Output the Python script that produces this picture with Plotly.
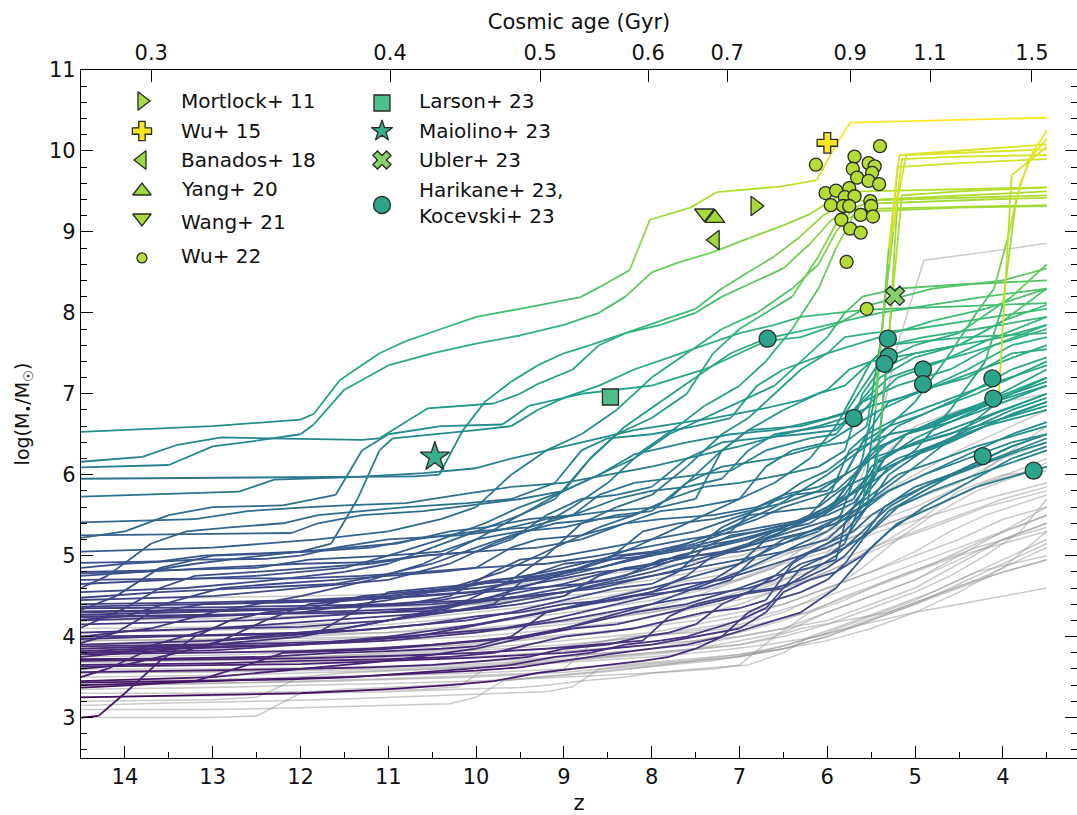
import plotly.graph_objects as go
from plotly.colors import sample_colorscale

# ---------------- axes ----------------
AGE_LABELS = ["0.3", "0.4", "0.5", "0.6", "0.7", "0.9", "1.1", "1.5"]
AGE_TICK_Z = [13.70, 10.98, 9.27, 8.04, 7.14, 5.74, 4.83, 3.67]
Z_RANGE = [14.5, 3.156]
M_RANGE = [2.5, 11.0]

# ---------------- observed black holes ----------------
MORTLOCK11_Z, MORTLOCK11_M = [6.82], [9.32]
WU15_Z, WU15_M = [6.00], [10.10]
BANADOS18_Z, BANADOS18_M = [7.28], [8.90]
YANG20_Z, YANG20_M = [7.28], [9.17]
WANG21_Z, WANG21_M = [7.40], [9.23]
WU22_Z = [6.13, 5.40, 5.69, 5.53, 5.46, 5.71, 5.49, 5.66, 5.53, 5.41, 6.02, 5.90, 5.75, 5.80,
          5.69, 5.51, 5.96, 5.82, 5.75, 5.50, 5.62, 5.48, 5.84, 5.74, 5.62, 5.78, 5.55]
WU22_M = [9.83, 10.06, 9.93, 9.85, 9.81, 9.78, 9.73, 9.67, 9.63, 9.59, 9.48, 9.51, 9.54, 9.43,
          9.44, 9.38, 9.33, 9.32, 9.32, 9.32, 9.21, 9.19, 9.15, 9.04, 8.99, 8.63, 8.05]
LARSON23_Z, LARSON23_M = [8.47], [6.96]
MAIOLINO23_Z, MAIOLINO23_M = [10.47], [6.22]
UBLER23_Z, UBLER23_M = [5.23], [8.21]
HARIKANE23_Z = [6.68, 5.70, 5.31, 5.30, 5.35, 4.91, 4.91, 4.12, 4.11, 4.23, 3.65]
HARIKANE23_M = [7.68, 6.70, 7.68, 7.46, 7.37, 7.30, 7.12, 7.19, 6.94, 6.23, 6.05]

# ---------------- simulated growth tracks: (z, log M) ----------------
UPPER_TRACKS = [
    [(14.5, 6.53), (13.0, 6.6), (12.0, 6.68), (11.85, 6.75), (11.55, 7.17), (11.1, 7.5), (10.8, 7.65),
     (10.4, 7.8), (10.0, 7.95), (9.5, 8.05), (8.82, 8.19), (8.59, 8.32), (8.25, 8.53), (8.02, 9.15),
     (7.56, 9.3), (7.26, 9.49), (6.54, 9.56), (6.12, 9.64), (5.94, 10.0), (5.74, 10.35), (3.5, 10.41)],
    [(14.5, 6.09), (13.5, 6.12), (13.0, 6.35), (12.5, 6.42), (12.0, 6.5), (11.85, 6.62), (11.5, 7.05),
     (11.0, 7.35), (10.5, 7.5), (10.0, 7.62), (9.5, 7.72), (9.0, 7.85), (8.6, 8.0), (8.3, 8.2), (8.0, 8.5),
     (7.7, 8.62), (7.3, 8.75), (6.9, 8.92), (6.5, 9.08), (6.2, 9.22), (5.9, 9.42), (5.6, 9.5), (3.5, 9.55)],
    [(14.5, 6.16), (13.8, 6.22), (13.4, 6.37), (12.9, 6.46), (11.3, 6.43), (11.1, 6.45), (10.55, 6.82),
     (9.8, 6.88), (9.5, 7.0), (9.3, 7.12), (8.9, 7.3), (8.6, 7.6), (8.3, 7.75), (7.9, 7.85), (7.5, 8.0),
     (7.2, 8.2), (6.9, 8.35), (6.5, 8.55), (6.2, 8.85), (5.95, 9.15), (5.7, 9.28), (3.5, 9.33)],
    [(14.5, 5.95), (13.0, 5.96), (11.5, 5.97), (10.7, 5.98), (10.42, 6.0), (10.15, 6.55), (9.9, 6.9),
     (9.6, 7.15), (9.3, 7.35), (9.0, 7.5), (8.7, 7.6), (8.3, 7.75), (7.9, 7.9), (7.5, 8.05), (7.2, 8.3),
     (6.9, 8.5), (6.6, 8.7), (6.3, 8.95), (6.05, 9.2), (5.8, 9.38), (3.5, 9.45)],
    [(14.5, 5.73), (12.7, 5.79), (12.3, 5.94), (11.4, 5.97), (10.6, 6.02), (10.0, 6.08), (9.6, 6.2),
     (9.0, 6.35), (8.6, 6.45), (8.2, 6.55), (7.8, 6.62), (7.3, 6.7), (6.8, 6.8), (6.3, 6.92), (6.0, 7.05),
     (5.75, 7.3), (5.5, 7.4), (5.0, 7.5), (4.5, 7.6), (4.0, 7.7), (3.5, 7.85)],
    [(14.5, 4.78), (13.8, 4.8), (13.2, 4.9), (12.6, 4.98), (12.0, 5.05), (11.65, 5.15), (11.35, 5.7),
     (11.1, 6.3), (10.95, 6.45), (10.5, 6.5), (10.0, 6.55), (9.6, 6.6), (9.3, 6.8), (9.0, 6.95), (8.6, 7.1),
     (8.2, 7.3), (7.8, 7.45), (7.4, 7.6), (7.0, 7.75), (6.6, 7.85), (6.3, 7.95), (5.9, 8.0), (5.55, 8.04),
     (4.5, 8.08), (3.5, 8.12)],
]

MID_TRACKS = [
    [(14.5, 5.05), (13.0, 5.1), (11.8, 5.2), (11.0, 5.3), (10.4, 5.45), (10.0, 5.6), (9.6, 6.0), (9.2, 6.3),
     (8.8, 6.5), (8.4, 6.8), (8.0, 7.2), (7.6, 7.5), (7.2, 7.8), (6.8, 8.0), (6.4, 8.3), (6.1, 8.6),
     (5.9, 9.0), (5.7, 9.3), (5.4, 9.4), (4.5, 9.45), (3.5, 9.5)],
    [(14.5, 4.65), (13.5, 4.7), (12.5, 4.75), (11.5, 4.85), (11.0, 5.0), (10.4, 5.2), (9.9, 5.4), (9.5, 5.6),
     (9.0, 5.8), (8.7, 6.2), (8.4, 6.5), (8.0, 6.7), (7.6, 7.0), (7.3, 7.5), (7.0, 7.8), (6.7, 8.0),
     (6.4, 8.2), (6.1, 8.7), (5.9, 9.1), (5.6, 9.25), (4.5, 9.3), (3.5, 9.32)],
    [(14.5, 4.45), (13.0, 4.5), (12.0, 4.6), (11.0, 4.7), (10.3, 4.9), (9.8, 5.15), (9.3, 5.35), (8.9, 5.6),
     (8.5, 5.9), (8.1, 6.3), (7.7, 6.6), (7.4, 6.85), (7.0, 7.1), (6.7, 7.4), (6.4, 7.8), (6.1, 8.3),
     (5.9, 8.8), (5.7, 9.2), (5.5, 9.35), (4.2, 9.4), (3.5, 9.42)],
    [(14.5, 4.0), (13.7, 4.1), (13.0, 4.3), (12.0, 4.5), (11.2, 4.7), (10.6, 4.9), (10.0, 5.2), (9.5, 5.5),
     (9.0, 5.8), (8.6, 6.0), (8.2, 6.2), (7.8, 6.5), (7.4, 6.7), (7.0, 6.9), (6.6, 7.1), (6.3, 7.4),
     (6.0, 7.7), (5.8, 8.0), (5.6, 8.2), (5.2, 8.3), (4.5, 8.35), (3.5, 8.4)],
    [(14.5, 3.85), (13.0, 3.9), (12.0, 4.0), (11.0, 4.2), (10.2, 4.4), (9.6, 4.7), (9.2, 5.0), (8.8, 5.4),
     (8.4, 5.6), (8.0, 5.75), (7.6, 6.1), (7.2, 6.5), (6.9, 6.7), (6.6, 7.0), (6.3, 7.3), (6.0, 7.5),
     (5.8, 7.7), (5.5, 7.75), (5.0, 7.8), (4.4, 7.9), (3.5, 8.05)],
    [(14.5, 4.55), (13.3, 4.6), (12.3, 4.7), (11.5, 4.8), (11.0, 4.9), (10.5, 5.1), (10.0, 5.3), (9.5, 5.5),
     (9.1, 5.7), (8.7, 6.2), (8.3, 6.6), (7.9, 6.9), (7.5, 7.2), (7.1, 7.5), (6.7, 7.68), (6.2, 7.8),
     (5.8, 7.9), (5.4, 8.0), (4.8, 8.1), (4.2, 8.2), (3.5, 8.3)],
    [(14.5, 4.2), (13.0, 4.25), (12.0, 4.3), (11.0, 4.45), (10.3, 4.6), (9.7, 4.8), (9.1, 5.1), (8.6, 5.35),
     (8.2, 5.5), (7.8, 5.7), (7.5, 6.0), (7.2, 6.3), (6.9, 6.55), (6.5, 6.8), (6.1, 7.0), (5.8, 7.1),
     (5.6, 7.3), (5.3, 7.6), (4.9, 7.7), (4.3, 7.8), (3.5, 7.95)],
    [(14.5, 3.9), (13.0, 3.95), (11.5, 4.1), (10.5, 4.3), (9.8, 4.5), (9.2, 4.7), (8.7, 4.9), (8.2, 5.1),
     (7.8, 5.3), (7.4, 5.5), (7.0, 5.7), (6.6, 5.9), (6.2, 6.2), (5.9, 6.6), (5.7, 7.0), (5.5, 7.4),
     (5.3, 7.6), (4.9, 7.65), (4.4, 7.7), (3.5, 7.75)],
]

RISER_TRACKS = [
    [(14.5, 4.05), (13.0, 4.1), (12.0, 4.12), (11.0, 4.2), (10.0, 4.35), (9.0, 4.55), (8.0, 4.8), (7.0, 5.1),
     (6.5, 5.3), (6.0, 5.6), (5.5, 5.9), (5.0, 6.3), (4.6, 6.8), (4.2, 7.4), (4.0, 8.1), (3.85, 9.4),
     (3.7, 9.9), (3.5, 10.15)],
    [(14.5, 4.4), (13.2, 4.42), (12.0, 4.45), (11.0, 4.5), (10.0, 4.6), (9.0, 4.75), (8.0, 5.0), (7.2, 5.3),
     (6.6, 5.6), (6.0, 6.0), (5.5, 6.4), (5.0, 6.9), (4.6, 7.5), (4.3, 8.0), (4.1, 8.3), (3.95, 8.9),
     (3.8, 9.6), (3.65, 10.0), (3.5, 10.25)],
    [(14.5, 3.45), (13.0, 3.5), (11.0, 3.7), (10.0, 3.85), (9.0, 4.1), (8.0, 4.4), (7.0, 4.8), (6.0, 5.3),
     (5.5, 5.7), (5.0, 6.1), (4.4, 6.6), (4.05, 6.9), (3.9, 9.7), (3.5, 10.05)],
    [(14.5, 3.8), (13.0, 3.83), (12.0, 3.9), (11.0, 4.0), (10.0, 4.15), (9.0, 4.35), (8.0, 4.6), (7.0, 4.9),
     (6.4, 5.2), (6.0, 5.4), (5.6, 5.6), (5.45, 6.8), (5.3, 8.8), (5.18, 9.95), (3.5, 10.08)],
]

BULK_TRACKS = [
    [(14.5, 5.41), (13.2, 5.45), (12.6, 5.55), (11.9, 5.6), (11.5, 5.62), (10.8, 5.65), (10.2, 5.75),
     (9.6, 5.85), (9.0, 5.9), (8.5, 6.0), (8.0, 6.1), (7.4, 6.25), (7.0, 6.35), (6.5, 6.5), (6.1, 6.6),
     (5.8, 6.7), (5.5, 6.85), (5.0, 7.0), (4.4, 7.3), (3.9, 7.6), (3.5, 7.7)],
    [(14.5, 5.25), (12.1, 5.28), (11.8, 5.4), (11.3, 5.5), (10.6, 5.55), (10.0, 5.63), (9.5, 5.7),
     (9.0, 5.8), (8.6, 6.0), (8.2, 6.25), (7.6, 6.4), (7.1, 6.5), (6.6, 6.55), (6.0, 6.7), (5.7, 6.8),
     (5.4, 7.2), (5.0, 7.45), (4.5, 7.6), (4.0, 7.9), (3.5, 8.3)],
    [(14.5, 5.22), (14.0, 5.3), (13.5, 5.5), (13.0, 5.6), (12.2, 5.62), (11.6, 5.75), (11.3, 6.3),
     (11.0, 6.5), (10.4, 6.6), (9.7, 6.62), (9.4, 6.85), (8.8, 7.0), (8.0, 7.1), (7.4, 7.3), (7.0, 7.5),
     (6.7, 7.65), (6.3, 7.7), (5.9, 7.85), (5.5, 8.1), (4.8, 8.3), (4.0, 8.4), (3.5, 8.55)],
    [(14.5, 4.91), (13.6, 4.93), (13.1, 5.0), (12.0, 5.05), (11.4, 5.1), (10.9, 5.15), (10.3, 5.3),
     (9.9, 5.35), (9.4, 5.45), (8.9, 5.5), (8.6, 5.75), (8.2, 5.9), (7.5, 6.0), (7.1, 6.05), (6.7, 6.3),
     (6.2, 6.45), (5.9, 6.5), (5.6, 6.9), (5.2, 7.1), (4.6, 7.3), (4.1, 7.6), (3.5, 7.85)],
    [(14.5, 4.85), (14.0, 4.9), (13.2, 4.95), (12.4, 4.96), (12.0, 5.0), (11.6, 5.1), (11.0, 5.2),
     (10.2, 5.25), (9.8, 5.3), (9.2, 5.45), (8.5, 5.55), (7.9, 5.6), (7.5, 5.7), (7.2, 6.3), (6.9, 6.55),
     (6.3, 6.6), (5.8, 6.75), (5.4, 7.4), (5.0, 7.6), (4.5, 7.75), (3.9, 8.2), (3.5, 8.6)],
    [(14.5, 4.80), (13.5, 4.82), (12.5, 4.85), (11.9, 4.95), (11.0, 5.0), (10.4, 5.05), (10.0, 5.2),
     (9.5, 5.3), (9.0, 5.35), (8.4, 5.5), (8.0, 5.55), (7.6, 5.9), (7.2, 6.1), (6.6, 6.2), (6.1, 6.35),
     (5.8, 6.4), (5.55, 6.6), (5.4, 7.6), (5.25, 9.0), (5.15, 9.9), (4.5, 9.93), (3.5, 9.95)],
    [(14.5, 4.75), (13.8, 4.8), (13.0, 4.85), (12.0, 4.9), (11.2, 4.92), (10.6, 5.0), (10.0, 5.05),
     (9.3, 5.1), (8.8, 5.2), (8.3, 5.4), (7.9, 5.45), (7.3, 5.5), (6.8, 5.6), (6.4, 5.75), (6.0, 5.8),
     (5.8, 6.0), (5.6, 6.4), (5.3, 6.6), (4.9, 6.75), (4.4, 7.0), (3.9, 7.3), (3.5, 7.45)],
    [(14.5, 4.70), (13.0, 4.72), (12.0, 4.72), (11.3, 4.75), (10.6, 4.8), (10.0, 4.85), (9.2, 4.9),
     (8.6, 5.0), (8.1, 5.1), (7.6, 5.2), (7.0, 5.3), (6.5, 5.4), (6.0, 5.5), (5.7, 5.65), (5.45, 6.0),
     (5.3, 7.6), (5.2, 9.4), (5.1, 9.95), (3.5, 10.02)],
    [(14.5, 4.60), (14.2, 4.75), (13.7, 5.15), (13.3, 5.3), (12.8, 5.35), (12.2, 5.4), (11.8, 5.5),
     (11.3, 5.55), (10.8, 5.6), (10.1, 5.65), (9.6, 5.7), (9.1, 5.9), (8.8, 6.3), (8.5, 6.45), (8.0, 6.5),
     (7.5, 6.6), (7.1, 6.7), (6.8, 7.1), (6.5, 7.3), (6.0, 7.5), (5.7, 7.6), (5.4, 7.7), (4.8, 7.9),
     (4.2, 8.05), (3.5, 8.3)],
    [(14.5, 4.48), (13.6, 4.55), (12.6, 4.6), (11.6, 4.65), (11.1, 4.75), (10.5, 4.9), (10.0, 5.1),
     (9.6, 5.25), (9.1, 5.4), (8.6, 5.45), (8.2, 5.5), (7.8, 5.7), (7.4, 5.85), (7.0, 5.9), (6.5, 6.0),
     (6.1, 6.1), (5.8, 6.3), (5.6, 7.0), (5.4, 7.3), (5.0, 7.5), (4.5, 7.6), (4.0, 7.9), (3.5, 8.1)],
    [(14.5, 4.37), (13.0, 4.4), (12.2, 4.42), (11.4, 4.45), (10.6, 4.5), (10.0, 4.55), (9.5, 4.7),
     (9.0, 4.8), (8.6, 4.85), (8.1, 5.0), (7.6, 5.1), (7.2, 5.2), (6.8, 5.3), (6.4, 5.4), (6.0, 5.55),
     (5.75, 5.9), (5.5, 6.3), (5.1, 6.5), (4.6, 6.7), (4.1, 6.9), (3.5, 7.1)],
    [(14.5, 4.35), (13.0, 4.36), (12.0, 4.38), (11.0, 4.4), (10.0, 4.45), (9.4, 4.5), (9.0, 4.55),
     (8.6, 4.6), (8.2, 4.7), (7.8, 4.8), (7.5, 4.9), (7.1, 5.05), (6.8, 5.15), (6.5, 5.3), (6.2, 5.45),
     (5.95, 5.6), (5.75, 5.9), (5.5, 6.3), (5.2, 6.6), (4.8, 6.8), (4.3, 7.0), (3.5, 7.4)],
    [(14.5, 4.33), (14.1, 4.5), (13.6, 4.85), (13.0, 5.0), (12.5, 5.02), (11.9, 5.05), (11.2, 5.1),
     (10.7, 5.2), (10.0, 5.3), (9.4, 5.35), (8.9, 5.5), (8.4, 5.7), (8.0, 5.8), (7.6, 5.85), (7.2, 5.95),
     (6.9, 6.3), (6.6, 6.5), (6.0, 6.6), (5.7, 6.65), (5.5, 6.9), (5.2, 7.2), (4.7, 7.4), (4.2, 7.65),
     (3.5, 7.95)],
    [(14.5, 4.31), (13.0, 4.33), (11.8, 4.35), (11.0, 4.4), (10.4, 4.45), (9.9, 4.55), (9.3, 4.6),
     (8.8, 4.65), (8.3, 4.75), (7.9, 4.95), (7.5, 5.0), (7.0, 5.05), (6.5, 5.15), (6.1, 5.3), (5.85, 5.5),
     (5.6, 6.2), (5.45, 7.0), (5.3, 8.6), (5.2, 9.8), (4.5, 9.85), (3.5, 9.9)],
    [(14.5, 4.30), (13.5, 4.32), (12.5, 4.34), (11.5, 4.36), (10.5, 4.4), (9.8, 4.45), (9.0, 4.55),
     (8.5, 4.65), (8.0, 4.75), (7.5, 4.85), (7.0, 4.95), (6.5, 5.05), (6.0, 5.2), (5.8, 5.4), (5.6, 5.8),
     (5.35, 6.2), (5.0, 6.45), (4.5, 6.7), (4.0, 6.95), (3.5, 7.2)],
    [(14.5, 4.27), (13.4, 4.3), (12.3, 4.33), (11.5, 4.36), (10.8, 4.4), (10.3, 4.5), (9.8, 4.8),
     (9.5, 4.95), (9.0, 5.0), (8.5, 5.1), (8.0, 5.2), (7.5, 5.3), (7.1, 5.45), (6.7, 5.6), (6.3, 5.9),
     (6.0, 6.05), (5.7, 6.3), (5.3, 6.5), (4.8, 6.6), (4.3, 6.85), (3.5, 7.3)],
    [(14.5, 4.25), (13.0, 4.27), (12.0, 4.28), (11.0, 4.3), (10.2, 4.33), (9.8, 4.4), (9.4, 4.75),
     (9.0, 4.9), (8.5, 4.95), (8.0, 5.0), (7.5, 5.1), (7.0, 5.2), (6.5, 5.35), (6.1, 5.5), (5.8, 5.7),
     (5.5, 6.0), (5.2, 6.2), (4.7, 6.4), (4.2, 6.6), (3.5, 6.8)],
    [(14.5, 4.24), (13.0, 4.26), (12.0, 4.3), (11.3, 4.32), (10.6, 4.35), (10.0, 4.42), (9.5, 4.5),
     (9.0, 4.6), (8.5, 4.7), (8.0, 4.85), (7.6, 5.0), (7.2, 5.35), (6.9, 5.5), (6.5, 5.55), (6.1, 5.6),
     (5.8, 5.85), (5.5, 6.0), (5.1, 6.2), (4.6, 6.4), (4.0, 6.7), (3.5, 6.9)],
    [(14.5, 4.21), (14.0, 4.25), (13.4, 4.45), (12.9, 4.6), (12.3, 4.65), (11.6, 4.7), (11.0, 4.75),
     (10.4, 4.8), (10.0, 4.85), (9.6, 5.1), (9.3, 5.2), (8.8, 5.25), (8.3, 5.4), (7.9, 5.55), (7.5, 5.6),
     (7.0, 5.7), (6.7, 6.1), (6.4, 6.3), (6.0, 6.4), (5.7, 6.6), (5.4, 6.8), (5.0, 7.0), (4.5, 7.2),
     (4.0, 7.4), (3.5, 7.6)],
    [(14.5, 4.15), (13.5, 4.18), (12.6, 4.2), (11.8, 4.25), (11.1, 4.3), (10.5, 4.35), (10.0, 4.45),
     (9.5, 4.55), (9.0, 4.65), (8.5, 4.8), (8.0, 4.9), (7.5, 5.05), (7.0, 5.2), (6.6, 5.3), (6.2, 5.4),
     (5.9, 5.6), (5.7, 5.7), (5.5, 6.1), (5.2, 6.3), (4.8, 6.45), (4.3, 6.6), (3.5, 6.85)],
    [(14.5, 4.11), (14.0, 4.35), (13.6, 4.6), (13.2, 4.75), (12.5, 4.8), (11.9, 4.85), (11.2, 4.9),
     (10.6, 5.0), (10.0, 5.05), (9.6, 5.2), (9.2, 5.5), (8.8, 5.7), (8.4, 5.75), (8.0, 5.85), (7.6, 6.2),
     (7.2, 6.4), (6.8, 6.45), (6.3, 6.5), (5.9, 6.55), (5.6, 6.9), (5.3, 7.2), (4.9, 7.35), (4.4, 7.5),
     (3.5, 7.8)],
    [(14.5, 4.00), (13.0, 4.02), (12.0, 4.05), (11.3, 4.08), (10.6, 4.15), (10.0, 4.25), (9.5, 4.3),
     (9.0, 4.4), (8.5, 4.45), (8.0, 4.55), (7.6, 4.75), (7.3, 5.0), (7.0, 5.1), (6.6, 5.2), (6.2, 5.3),
     (5.9, 5.4), (5.6, 5.55), (5.3, 5.8), (4.9, 6.0), (4.4, 6.25), (3.9, 6.5), (3.5, 6.65)],
    [(14.5, 3.97), (13.6, 4.0), (12.6, 4.02), (11.8, 4.05), (11.4, 4.3), (11.0, 4.55), (10.5, 4.6),
     (10.0, 4.65), (9.4, 4.7), (8.9, 4.8), (8.5, 4.95), (8.1, 5.3), (7.7, 5.4), (7.3, 5.45), (6.9, 5.55),
     (6.5, 5.65), (6.1, 5.8), (5.8, 6.0), (5.55, 6.5), (5.3, 6.9), (4.9, 7.05), (4.4, 7.2), (3.9, 7.5),
     (3.5, 7.55)],
    [(14.5, 3.92), (14.1, 4.05), (13.7, 4.3), (13.1, 4.4), (12.5, 4.42), (11.7, 4.45), (11.0, 4.5),
     (10.3, 4.6), (9.8, 4.7), (9.3, 4.75), (8.8, 4.85), (8.3, 5.0), (7.9, 5.05), (7.5, 5.15), (7.1, 5.3),
     (6.8, 5.6), (6.5, 5.75), (6.1, 5.85), (5.8, 6.0), (5.5, 6.2), (5.1, 6.35), (4.6, 6.5), (4.1, 6.75),
     (3.5, 7.0)],
    [(14.5, 3.88), (13.2, 3.9), (12.2, 3.92), (11.3, 3.95), (10.7, 4.0), (10.2, 4.1), (9.7, 4.2),
     (9.2, 4.3), (8.7, 4.4), (8.2, 4.5), (7.8, 4.55), (7.4, 4.6), (7.1, 4.7), (6.8, 5.0), (6.5, 5.2),
     (6.2, 5.3), (5.9, 5.4), (5.7, 5.6), (5.5, 5.75), (5.2, 6.0), (4.8, 6.15), (4.3, 6.35), (3.5, 6.6)],
    [(14.5, 3.82), (13.8, 3.85), (13.0, 3.9), (12.4, 4.2), (11.9, 4.4), (11.4, 4.45), (10.7, 4.5),
     (10.1, 4.55), (9.6, 4.6), (9.1, 4.7), (8.6, 4.8), (8.1, 4.85), (7.7, 5.0), (7.3, 5.1), (6.9, 5.2),
     (6.5, 5.35), (6.2, 5.5), (5.95, 5.8), (5.75, 6.3), (5.55, 6.5), (5.2, 6.7), (4.7, 6.9), (4.2, 7.1),
     (3.5, 7.35)],
    [(14.5, 3.80), (14.0, 3.82), (13.5, 3.85), (13.0, 3.88), (12.0, 3.9), (11.0, 3.95), (10.0, 4.05),
     (9.0, 4.2), (8.5, 4.3), (8.0, 4.4), (7.5, 4.5), (7.2, 4.55), (6.9, 4.6), (6.6, 4.7), (6.3, 4.9),
     (6.0, 5.0), (5.8, 5.15), (5.6, 5.7), (5.3, 6.1), (4.9, 6.3), (4.4, 6.55), (3.9, 6.8), (3.5, 6.95)],
    [(14.5, 3.78), (13.0, 3.8), (12.0, 3.82), (11.2, 3.85), (10.5, 3.9), (10.0, 3.95), (9.5, 4.0),
     (9.0, 4.1), (8.6, 4.2), (8.2, 4.3), (7.9, 4.35), (7.6, 4.4), (7.3, 4.5), (7.0, 4.6), (6.6, 4.75),
     (6.2, 4.85), (5.9, 4.95), (5.8, 5.4), (5.6, 5.6), (5.3, 5.8), (4.9, 6.0), (4.4, 6.2), (3.9, 6.4),
     (3.5, 6.5)],
    [(14.5, 3.75), (14.0, 3.8), (13.5, 3.95), (13.0, 4.1), (12.4, 4.15), (11.7, 4.2), (11.0, 4.25),
     (10.4, 4.3), (9.9, 4.35), (9.5, 4.4), (9.0, 4.5), (8.6, 4.75), (8.3, 4.85), (7.9, 4.9), (7.5, 5.0),
     (7.2, 5.05), (6.9, 5.15), (6.6, 5.3), (6.3, 5.45), (6.0, 5.6), (5.8, 5.75), (5.6, 6.1), (5.3, 6.4),
     (4.9, 6.6), (4.4, 6.8), (3.9, 7.0), (3.5, 7.15)],
    [(14.5, 3.72), (13.4, 3.73), (12.4, 3.75), (11.6, 3.8), (11.0, 3.82), (10.4, 3.85), (10.0, 3.88),
     (9.6, 4.0), (9.2, 4.3), (8.8, 4.4), (8.4, 4.45), (8.0, 4.55), (7.6, 4.65), (7.2, 4.7), (6.9, 4.8),
     (6.6, 4.9), (6.3, 5.0), (6.0, 5.15), (5.8, 5.3), (5.55, 5.6), (5.4, 6.5), (5.25, 8.3), (5.15, 9.45),
     (4.5, 9.5), (3.5, 9.55)],
    [(14.5, 3.70), (13.0, 3.72), (12.0, 3.73), (11.0, 3.76), (10.0, 3.8), (9.2, 3.85), (8.6, 3.9),
     (8.1, 3.95), (7.8, 4.25), (7.5, 4.4), (7.1, 4.5), (6.8, 4.55), (6.5, 4.6), (6.2, 4.8), (5.9, 5.0),
     (5.6, 5.3), (5.3, 5.6), (4.9, 5.85), (4.4, 6.1), (3.9, 6.35), (3.5, 6.5)],
    [(14.5, 3.65), (13.0, 3.67), (12.0, 3.7), (11.0, 3.72), (10.3, 3.75), (9.8, 3.8), (9.4, 3.9),
     (9.0, 4.0), (8.6, 4.05), (8.2, 4.1), (7.8, 4.2), (7.4, 4.3), (7.0, 4.35), (6.7, 4.45), (6.4, 4.9),
     (6.1, 5.1), (5.9, 5.2), (5.7, 5.3), (5.5, 5.5), (5.2, 5.7), (4.8, 5.9), (4.3, 6.1), (3.8, 6.3),
     (3.5, 6.4)],
    [(14.5, 3.63), (13.0, 3.65), (12.0, 3.66), (11.0, 3.7), (10.0, 3.74), (9.0, 3.8), (8.5, 3.85),
     (8.0, 3.9), (7.5, 4.0), (7.0, 4.1), (6.7, 4.3), (6.5, 4.55), (6.2, 4.7), (5.9, 4.8), (5.6, 5.0),
     (5.3, 5.3), (4.9, 5.6), (4.4, 5.9), (3.9, 6.2), (3.5, 6.35)],
    [(14.5, 3.60), (14.0, 3.65), (13.4, 3.8), (12.9, 3.95), (12.3, 4.0), (11.7, 4.05), (11.1, 4.1),
     (10.6, 4.15), (10.1, 4.2), (9.6, 4.3), (9.2, 4.4), (8.8, 4.5), (8.4, 4.6), (8.0, 4.65), (7.7, 4.8),
     (7.4, 5.1), (7.1, 5.25), (6.8, 5.3), (6.4, 5.4), (6.0, 5.55), (5.8, 5.7), (5.6, 5.85), (5.4, 6.2),
     (5.0, 6.4), (4.5, 6.6), (4.0, 6.8), (3.5, 7.0)],
    [(14.5, 3.56), (13.0, 3.58), (12.0, 3.6), (11.2, 3.62), (10.5, 3.65), (9.9, 3.7), (9.4, 3.75),
     (9.0, 3.85), (8.5, 3.9), (8.1, 4.0), (7.8, 4.05), (7.5, 4.15), (7.2, 4.4), (6.9, 4.55), (6.6, 4.6),
     (6.3, 4.7), (6.0, 4.85), (5.8, 5.0), (5.55, 5.3), (5.35, 5.6), (5.0, 5.85), (4.6, 6.0), (4.1, 6.2),
     (3.5, 6.45)],
    [(14.5, 3.50), (14.2, 3.6), (13.8, 3.8), (13.4, 3.85), (12.8, 3.87), (12.1, 3.9), (11.4, 3.95),
     (10.8, 4.0), (10.2, 4.05), (9.7, 4.1), (9.2, 4.2), (8.8, 4.3), (8.4, 4.4), (8.0, 4.5), (7.6, 4.6),
     (7.3, 4.7), (7.0, 4.9), (6.7, 5.2), (6.4, 5.3), (6.1, 5.4), (5.8, 5.5), (5.6, 5.7), (5.35, 6.2),
     (5.1, 6.5), (4.7, 6.7), (4.2, 6.9), (3.5, 7.2)],
    [(14.5, 3.43), (13.2, 3.45), (12.2, 3.47), (11.4, 3.5), (10.7, 3.55), (10.1, 3.6), (9.6, 3.65),
     (9.1, 3.75), (8.7, 3.8), (8.3, 3.9), (7.9, 3.95), (7.6, 4.0), (7.3, 4.1), (7.0, 4.2), (6.7, 4.35),
     (6.5, 4.6), (6.3, 4.85), (6.0, 5.0), (5.8, 5.1), (5.5, 5.3), (5.2, 5.6), (4.8, 5.8), (4.3, 6.0),
     (3.5, 6.3)],
    [(14.5, 3.40), (13.5, 3.43), (12.5, 3.47), (11.5, 3.5), (10.5, 3.55), (10.0, 3.58), (9.5, 3.62),
     (9.0, 3.7), (8.5, 3.78), (8.0, 3.85), (7.6, 3.9), (7.2, 4.0), (6.9, 4.3), (6.6, 4.45), (6.3, 4.55),
     (6.0, 4.7), (5.8, 4.9), (5.6, 5.2), (5.3, 5.55), (4.9, 5.8), (4.4, 6.1), (3.9, 6.35), (3.5, 6.5)],
    [(14.5, 3.37), (13.9, 3.4), (13.2, 3.45), (12.6, 3.65), (12.2, 3.8), (11.6, 3.82), (11.0, 3.85),
     (10.4, 3.9), (9.9, 3.95), (9.4, 4.0), (8.9, 4.1), (8.4, 4.15), (8.0, 4.25), (7.6, 4.35), (7.2, 4.45),
     (6.9, 4.55), (6.6, 4.75), (6.3, 5.0), (6.0, 5.1), (5.8, 5.2), (5.55, 5.6), (5.3, 6.0), (4.9, 6.3),
     (4.4, 6.5), (3.9, 6.75), (3.5, 6.9)],
    [(14.5, 3.25), (13.0, 3.28), (12.0, 3.3), (11.0, 3.35), (10.3, 3.4), (9.8, 3.45), (9.3, 3.55),
     (8.9, 3.6), (8.5, 3.65), (8.1, 3.7), (7.8, 3.75), (7.5, 3.85), (7.2, 4.0), (6.9, 4.1), (6.6, 4.2),
     (6.3, 4.3), (6.1, 4.45), (5.9, 4.6), (5.7, 4.85), (5.5, 5.1), (5.2, 5.4), (4.8, 5.6), (4.3, 5.85),
     (3.5, 6.1)],
    [(14.5, 3.0), (14.3, 3.02), (14.0, 3.3), (13.6, 3.7), (13.2, 4.0), (12.8, 4.2), (12.4, 4.3),
     (11.9, 4.35), (11.3, 4.5), (10.8, 4.55), (10.2, 4.6), (9.7, 4.7), (9.2, 4.8), (8.8, 4.9), (8.4, 5.0),
     (8.0, 5.05), (7.6, 5.15), (7.2, 5.3), (6.8, 5.45), (6.5, 5.6), (6.2, 5.7), (5.9, 5.8), (5.7, 6.0),
     (5.45, 6.3), (5.1, 6.5), (4.6, 6.65), (4.1, 6.85), (3.5, 7.1)],
]

GREY_TRACKS = [
    [(14.5, 4.46), (13.0, 4.48), (12.0, 4.5), (11.0, 4.52), (10.0, 4.6), (9.0, 4.7), (8.0, 4.85), (7.0, 5.0),
     (6.0, 5.3), (5.5, 5.5), (5.0, 5.7), (4.5, 5.9), (4.0, 6.2), (3.5, 6.4)],
    [(14.5, 4.3), (13.0, 4.32), (11.5, 4.35), (10.0, 4.4), (9.0, 4.5), (8.0, 4.6), (7.2, 4.7), (6.6, 4.9),
     (6.0, 5.1), (5.3, 5.4), (4.8, 5.6), (4.2, 5.9), (3.5, 6.1)],
    [(14.5, 4.1), (13.0, 4.12), (12.0, 4.15), (11.0, 4.2), (10.0, 4.3), (9.2, 4.4), (8.5, 4.5), (7.8, 4.65),
     (7.0, 4.8), (6.5, 5.0), (6.0, 5.2), (5.5, 5.4), (5.0, 5.6), (4.4, 5.9), (3.9, 6.3), (3.5, 6.6)],
    [(14.5, 4.0), (12.5, 4.02), (11.0, 4.05), (10.0, 4.1), (9.0, 4.2), (8.0, 4.35), (7.5, 4.5), (7.0, 4.7),
     (6.5, 4.9), (6.0, 5.05), (5.4, 5.3), (4.8, 5.5), (4.2, 5.7), (3.5, 5.9)],
    [(14.5, 3.95), (13.0, 3.97), (12.0, 4.0), (11.0, 4.05), (10.0, 4.15), (9.3, 4.25), (8.6, 4.35),
     (8.0, 4.45), (7.3, 4.6), (6.8, 4.8), (6.3, 5.0), (5.8, 5.2), (5.3, 5.4), (4.8, 5.6), (4.3, 5.85),
     (3.5, 6.2)],
    [(14.5, 3.9), (13.5, 3.92), (12.0, 3.95), (11.0, 4.0), (10.0, 4.05), (9.0, 4.15), (8.0, 4.3), (7.5, 4.4),
     (7.0, 4.55), (6.2, 4.8), (5.5, 5.1), (5.0, 5.3), (4.5, 5.5), (4.0, 5.7), (3.5, 5.85)],
    [(14.5, 3.85), (13.0, 3.87), (12.0, 3.9), (11.0, 3.95), (10.0, 4.0), (9.0, 4.1), (8.2, 4.2), (7.5, 4.35),
     (6.8, 4.5), (6.2, 4.7), (5.8, 4.9), (5.3, 5.2), (5.0, 5.4), (4.5, 5.8), (4.0, 6.0), (3.5, 6.05)],
    [(14.5, 3.8), (13.0, 3.8), (11.5, 3.85), (10.2, 3.9), (9.2, 4.0), (8.2, 4.1), (7.5, 4.2), (7.0, 4.3),
     (6.5, 4.4), (6.0, 4.6), (5.5, 4.8), (5.0, 5.0), (4.5, 5.2), (4.0, 5.45), (3.5, 5.6)],
    [(14.5, 3.75), (13.0, 3.77), (12.0, 3.8), (11.0, 3.85), (10.0, 3.9), (9.0, 4.0), (8.5, 4.05),
     (8.0, 4.15), (7.5, 4.25), (7.0, 4.4), (6.5, 4.6), (6.0, 4.8), (5.6, 5.0), (5.2, 5.2), (4.8, 5.35),
     (4.2, 5.6), (3.5, 5.8)],
    [(14.5, 3.7), (13.0, 3.72), (12.0, 3.74), (11.0, 3.8), (10.0, 3.85), (9.5, 3.9), (9.0, 3.95), (8.0, 4.05),
     (7.0, 4.25), (6.5, 4.4), (6.0, 4.6), (5.5, 4.8), (5.0, 5.05), (4.6, 5.3), (4.2, 5.5), (3.5, 5.75)],
    [(14.5, 3.68), (13.0, 3.7), (12.0, 3.72), (10.8, 3.75), (10.0, 3.8), (9.2, 3.85), (8.5, 3.95),
     (7.8, 4.05), (7.2, 4.15), (6.6, 4.3), (6.0, 4.5), (5.5, 4.7), (5.0, 4.9), (4.5, 5.1), (4.0, 5.3),
     (3.5, 5.5)],
    [(14.5, 3.63), (13.0, 3.65), (12.0, 3.68), (11.0, 3.7), (10.0, 3.75), (9.0, 3.82), (8.0, 3.9), (7.0, 4.0),
     (6.5, 4.1), (6.0, 4.3), (5.5, 4.5), (5.0, 4.7), (4.5, 4.95), (4.0, 5.2), (3.5, 5.4)],
    [(14.5, 3.6), (13.0, 3.6), (11.5, 3.62), (10.5, 3.65), (9.8, 3.7), (9.0, 3.75), (8.5, 3.8), (8.0, 3.85),
     (7.5, 3.95), (7.0, 4.05), (6.5, 4.2), (6.0, 4.4), (5.5, 4.6), (5.0, 4.8), (4.5, 5.0), (4.0, 5.15),
     (3.5, 5.3)],
    [(14.5, 3.55), (13.0, 3.57), (12.0, 3.6), (11.0, 3.62), (10.0, 3.66), (9.0, 3.72), (8.0, 3.8), (7.0, 3.9),
     (6.6, 4.0), (6.2, 4.3), (5.8, 4.5), (5.3, 4.7), (4.8, 4.9), (4.3, 5.1), (3.5, 5.35)],
    [(14.5, 3.5), (13.0, 3.52), (12.0, 3.55), (11.0, 3.58), (10.0, 3.62), (9.0, 3.68), (8.0, 3.75),
     (7.3, 3.82), (6.7, 3.9), (6.1, 4.0), (5.6, 4.15), (5.0, 4.3), (4.5, 4.4), (4.0, 4.5), (3.5, 4.6)],
    [(14.5, 3.45), (13.0, 3.47), (12.0, 3.5), (11.0, 3.52), (10.0, 3.55), (9.0, 3.6), (8.0, 3.68), (7.0, 3.78),
     (6.5, 3.85), (6.0, 4.0), (5.5, 4.2), (5.0, 4.4), (4.5, 4.6), (4.0, 4.8), (3.5, 4.95)],
    [(14.5, 3.4), (13.0, 3.42), (12.0, 3.45), (11.0, 3.48), (10.0, 3.52), (9.3, 3.55), (9.0, 3.6), (8.7, 3.9),
     (8.3, 4.0), (7.5, 4.05), (6.8, 4.15), (6.2, 4.3), (5.8, 4.45), (5.3, 4.7), (4.8, 4.9), (4.2, 5.2),
     (3.5, 5.5)],
    [(14.5, 3.35), (13.0, 3.37), (12.0, 3.4), (11.0, 3.42), (10.0, 3.45), (9.0, 3.5), (8.0, 3.55), (7.3, 3.6),
     (7.0, 3.65), (6.6, 4.0), (6.3, 4.1), (5.8, 4.2), (5.3, 4.3), (4.8, 4.5), (4.3, 4.7), (3.5, 5.1)],
    [(14.5, 3.3), (13.0, 3.3), (12.0, 3.32), (10.6, 3.35), (10.2, 3.38), (9.9, 3.6), (9.5, 3.7), (9.0, 3.75),
     (8.5, 3.8), (8.0, 3.85), (7.5, 3.9), (7.0, 4.0), (6.5, 4.1), (6.0, 4.2), (5.5, 4.4), (5.0, 4.6),
     (4.5, 4.9), (4.0, 5.2), (3.5, 5.4)],
    [(14.5, 3.25), (13.0, 3.27), (12.0, 3.3), (11.0, 3.32), (10.2, 3.35), (9.5, 3.37), (9.2, 3.4),
     (8.8, 3.45), (8.3, 3.5), (8.0, 3.55), (7.5, 3.6), (6.9, 3.65), (6.5, 3.8), (6.2, 4.0), (5.8, 4.15),
     (5.3, 4.35), (4.8, 4.55), (4.3, 4.8), (3.5, 5.0)],
    [(14.5, 3.2), (13.0, 3.22), (12.5, 3.25), (12.0, 3.5), (11.5, 3.55), (10.5, 3.6), (9.5, 3.65), (9.0, 3.7),
     (8.5, 3.75), (8.0, 3.8), (7.5, 3.85), (7.0, 3.95), (6.5, 4.05), (6.0, 4.3), (5.5, 4.5), (5.0, 4.7),
     (4.5, 5.0), (4.0, 5.3), (3.5, 5.6)],
    [(14.5, 3.1), (13.0, 3.1), (12.0, 3.12), (11.0, 3.15), (10.3, 3.17), (10.0, 3.25), (9.7, 3.45),
     (9.3, 3.5), (8.8, 3.55), (8.3, 3.6), (7.8, 3.65), (7.3, 3.7), (6.8, 3.8), (6.3, 3.95), (5.8, 4.1),
     (5.3, 4.3), (4.8, 4.5), (4.3, 4.7), (3.5, 4.95)],
    [(14.5, 3.0), (13.0, 3.0), (12.5, 3.02), (12.0, 3.3), (11.5, 3.35), (11.0, 3.37), (10.5, 3.4),
     (10.0, 3.43), (9.5, 3.48), (9.0, 3.52), (8.5, 3.57), (8.0, 3.63), (7.5, 3.7), (7.0, 3.75), (6.5, 3.85),
     (6.0, 4.0), (5.5, 4.2), (5.0, 4.4), (4.5, 4.65), (4.0, 4.9), (3.5, 5.15)],
    [(14.5, 3.15), (13.5, 3.18), (12.5, 3.2), (11.5, 3.23), (10.5, 3.27), (9.6, 3.3), (9.2, 3.32),
     (8.9, 3.38), (8.6, 3.6), (8.2, 3.65), (7.6, 3.7), (7.0, 3.78), (6.5, 3.88), (6.0, 4.05), (5.5, 4.25),
     (5.0, 4.45), (4.5, 4.7), (4.0, 4.95), (3.5, 5.2)],
    [(14.5, 4.2), (13.0, 4.22), (12.0, 4.25), (11.0, 4.3), (10.0, 4.4), (9.0, 4.55), (8.0, 4.7), (7.0, 4.9),
     (6.2, 5.1), (5.9, 5.3), (5.5, 5.7), (5.0, 6.0), (4.5, 6.3), (4.0, 6.55), (3.5, 6.8)],
    [(14.5, 4.05), (13.0, 4.08), (12.0, 4.1), (11.0, 4.15), (10.0, 4.25), (9.0, 4.35), (8.0, 4.5),
     (7.0, 4.7), (6.6, 4.85), (6.0, 5.3), (5.7, 5.7), (5.4, 6.6), (5.2, 7.6), (5.0, 8.3), (4.9, 8.65),
     (4.2, 8.75), (3.5, 8.86)],
    [(14.5, 3.95), (13.0, 3.96), (12.0, 3.98), (11.0, 4.0), (10.0, 4.08), (9.0, 4.18), (8.0, 4.3),
     (7.2, 4.45), (6.6, 4.65), (6.1, 4.9), (5.8, 5.3), (5.6, 5.8), (5.3, 6.3), (5.0, 6.6), (4.5, 6.8),
     (4.0, 6.9), (3.5, 7.0)],
    [(14.5, 3.72), (13.0, 3.73), (12.0, 3.75), (11.0, 3.78), (10.0, 3.83), (9.0, 3.9), (8.0, 4.0),
     (7.0, 4.15), (6.5, 4.3), (6.0, 4.55), (5.6, 4.85), (5.2, 5.2), (4.8, 5.5), (4.3, 5.8), (3.8, 6.0),
     (3.5, 6.15)],
    [(14.5, 3.55), (12.5, 3.57), (11.0, 3.6), (10.0, 3.64), (9.0, 3.7), (8.0, 3.78), (7.0, 3.9), (6.5, 4.0),
     (6.0, 4.15), (5.5, 4.35), (5.0, 4.55), (4.6, 4.75), (4.2, 5.0), (3.8, 5.3), (3.5, 5.7)],
    [(14.5, 3.4), (13.0, 3.42), (12.0, 3.44), (11.0, 3.47), (10.0, 3.5), (9.0, 3.56), (8.0, 3.65),
     (7.0, 3.75), (6.5, 3.85), (6.0, 3.95), (5.5, 4.1), (5.0, 4.3), (4.5, 4.55), (4.0, 4.85), (3.5, 5.3)],
]

COLOURED_TRACKS = BULK_TRACKS + MID_TRACKS + RISER_TRACKS + UPPER_TRACKS

# ---------------- colour mapping along tracks ----------------
CLR_LO, CLR_HI = 3.0, 10.4
NBIN = 64
BIN_COLOURS = sample_colorscale("Viridis", [i / (NBIN - 1) for i in range(NBIN)])


def colour_bin(m):
    t = (m - CLR_LO) / (CLR_HI - CLR_LO)
    t = min(max(t, 0.0), 1.0)
    return int(round(t * (NBIN - 1)))


fig = go.Figure()

# grey population underneath
for trk in GREY_TRACKS:
    fig.add_trace(go.Scatter(
        x=[p[0] for p in trk], y=[p[1] for p in trk], mode="lines",
        line=dict(color="rgba(150,150,150,0.5)", width=1.5),
        hoverinfo="skip", showlegend=False))

# coloured tracks: each segment coloured by the mass it grows to
paths = {b: ([], []) for b in range(NBIN)}
for trk in COLOURED_TRACKS:
    cur_b, cur = None, None
    for i in range(len(trk) - 1):
        b = colour_bin(trk[i + 1][1])
        if b != cur_b:
            if cur:
                paths[cur_b][0].extend([p[0] for p in cur] + [None])
                paths[cur_b][1].extend([p[1] for p in cur] + [None])
            cur, cur_b = [trk[i]], b
        cur.append(trk[i + 1])
    if cur:
        paths[cur_b][0].extend([p[0] for p in cur] + [None])
        paths[cur_b][1].extend([p[1] for p in cur] + [None])

for b in range(NBIN):
    xs, ys = paths[b]
    if xs:
        fig.add_trace(go.Scatter(
            x=xs, y=ys, mode="lines", line=dict(color=BIN_COLOURS[b], width=1.8),
            hoverinfo="skip", showlegend=False, connectgaps=False))

# ---------------- observations ----------------
EDGE = dict(color="#2a2a2a", width=1.3)
OBS = [
    ("Wu+ 22", WU22_Z, WU22_M, dict(symbol="circle", size=13, color="#b5dc36")),
    ("Mortlock+ 11", MORTLOCK11_Z, MORTLOCK11_M, dict(symbol="triangle-right", size=17, color="#a6d93b")),
    ("Wu+ 15", WU15_Z, WU15_M, dict(symbol="cross", size=17, color="#f6e620")),
    ("Banados+ 18", BANADOS18_Z, BANADOS18_M, dict(symbol="triangle-left", size=17, color="#9dd73f")),
    ("Yang+ 20", YANG20_Z, YANG20_M, dict(symbol="triangle-up", size=17, color="#a2d83d")),
    ("Wang+ 21", WANG21_Z, WANG21_M, dict(symbol="triangle-down", size=17, color="#a8da3a")),
    ("Larson+ 23", LARSON23_Z, LARSON23_M, dict(symbol="square", size=16, color="#4cbf8b")),
    ("Maiolino+ 23", MAIOLINO23_Z, MAIOLINO23_M, dict(symbol="star", size=22, color="#3aae8d")),
    ("Ubler+ 23", UBLER23_Z, UBLER23_M, dict(symbol="x", size=17, color="#86d16a")),
    ("Harikane+ 23,<br>Kocevski+ 23", HARIKANE23_Z, HARIKANE23_M,
     dict(symbol="circle", size=17, color="#2ca48b")),
]
for name, zs, ms, st in OBS:
    fig.add_trace(go.Scatter(
        x=zs, y=ms, mode="markers", name=name, showlegend=False,
        marker=dict(symbol=st["symbol"], size=st["size"], color=st["color"], line=EDGE)))

# ---------------- hand-placed two-column key (paper fractions) ----------------
KEY_ROWS = {
    "Mortlock+ 11": (0.0612, 0.9549, 0.0984, 0.9549),
    "Wu+ 15": (0.0612, 0.9113, 0.0984, 0.9113),
    "Banados+ 18": (0.0612, 0.8692, 0.0984, 0.8692),
    "Yang+ 20": (0.0612, 0.8241, 0.0984, 0.8270),
    "Wang+ 21": (0.0612, 0.7849, 0.0984, 0.7791),
    "Wu+ 22": (0.0612, 0.7268, 0.0984, 0.7297),
    "Larson+ 23": (0.3022, 0.9520, 0.3373, 0.9549),
    "Maiolino+ 23": (0.3022, 0.9113, 0.3373, 0.9113),
    "Ubler+ 23": (0.3022, 0.8692, 0.3373, 0.8692),
    "Harikane+ 23,<br>Kocevski+ 23": (0.3022, 0.8038, 0.3373, 0.8067),
}
KEY_SIZE = {"Wu+ 22": 10, "Harikane+ 23,<br>Kocevski+ 23": 17}
for name, zs, ms, st in OBS:
    mx, my, tx, ty = KEY_ROWS[name]
    fig.add_trace(go.Scatter(
        x=[mx], y=[my], xaxis="x3", yaxis="y3", mode="markers", showlegend=False, hoverinfo="skip",
        marker=dict(symbol=st["symbol"], size=KEY_SIZE.get(name, 16), color=st["color"], line=EDGE)))
    fig.add_annotation(x=tx, y=ty, xref="paper", yref="paper", text=name, showarrow=False,
                       xanchor="left", yanchor="middle", align="left",
                       font=dict(family="DejaVu Sans", size=20, color="#111111"))

# ---------------- layout ----------------
AX = dict(showgrid=False, zeroline=False, showline=True, linecolor="black", linewidth=1.3,
          ticks="inside", ticklen=12, tickwidth=1.3, tickcolor="black",
          tickfont=dict(family="DejaVu Sans", size=21, color="#111111"))

fig.update_layout(
    width=1077, height=815,
    margin=dict(l=81, r=0, t=70, b=57),
    paper_bgcolor="white", plot_bgcolor="white",
    showlegend=False,
    font=dict(family="DejaVu Sans", size=21, color="#111111"),
    xaxis=dict(**AX, range=Z_RANGE, tick0=0, dtick=1, mirror=False,
               minor=dict(dtick=0.5, tick0=0, ticks="inside", ticklen=6, tickwidth=1.2, tickcolor="black"),
               title=dict(text="z", standoff=6, font=dict(size=21))),
    xaxis2=dict(**AX, range=Z_RANGE, overlaying="x", side="top", tickmode="array",
                tickvals=AGE_TICK_Z, ticktext=AGE_LABELS,
                title=dict(text="Cosmic age (Gyr)", standoff=6, font=dict(size=21))),
    yaxis=dict(**AX, range=M_RANGE, tick0=0, dtick=1, mirror="ticks",
               minor=dict(dtick=0.2, tick0=0, ticks="inside", ticklen=6, tickwidth=1.2, tickcolor="black"),
               title=dict(text="log(M<sub>•</sub>/M<sub>☉</sub>)", standoff=14, font=dict(size=19))),
    xaxis3=dict(range=[0, 1], overlaying="x", visible=False),
    yaxis3=dict(range=[0, 1], overlaying="y", visible=False),
)

# a hidden trace keeps the top age axis drawn
fig.add_trace(go.Scatter(x=AGE_TICK_Z, y=[None] * len(AGE_TICK_Z), xaxis="x2", mode="markers",
                         showlegend=False, hoverinfo="skip"))

fig.write_html("out.html")
